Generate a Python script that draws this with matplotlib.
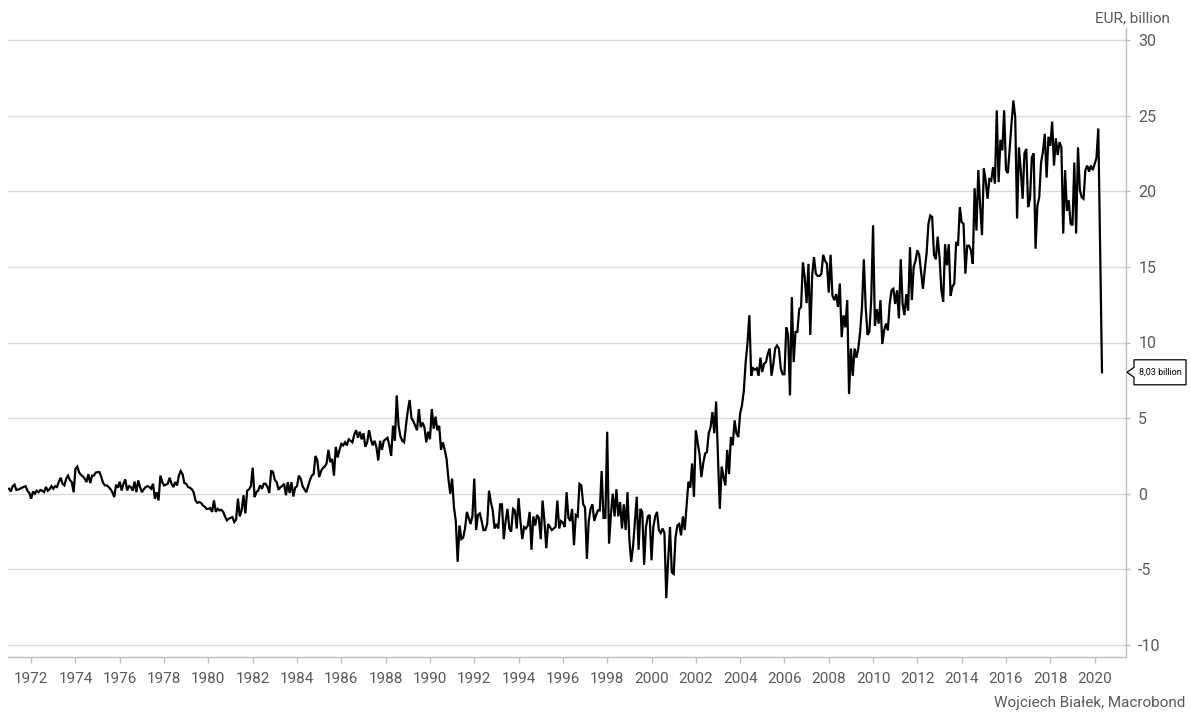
import matplotlib
matplotlib.use("Agg")
import matplotlib.pyplot as plt
from matplotlib.patches import Polygon
from matplotlib.transforms import IdentityTransform
import numpy as np

# ---- data: monthly values, EUR billion, starting January 1971 ----
vals_1970s = [
    0.33, 0.15, 0.5, 0.6, 0.25, 0.28, 0.33, 0.4, 0.45, 0.5, 0.2, 0.05,      # 1971
    -0.33, 0.15, 0.0, 0.2, 0.1, 0.25, 0.2, 0.1, 0.45, 0.2, 0.3, 0.5,        # 1972
    0.33, 0.5, 0.44, 0.8, 1.06, 0.66, 0.55, 1.0, 1.2, 0.9, 0.77, 0.1,       # 1973
    1.65, 1.8, 1.4, 1.25, 1.15, 1.0, 0.77, 1.3, 0.7, 1.2, 1.2, 1.4,         # 1974
    1.43, 1.43, 1.1, 0.7, 0.55, 0.55, 0.44, 0.3, 0.1, -0.22, 0.6, 0.4,      # 1975
    0.8, 0.22, 0.66, 0.95, 0.22, 0.5, 0.44, 0.2, 0.8, 0.1, 0.88, 0.44,      # 1976
    0.1, 0.3, 0.44, 0.5, 0.45, 0.33, 0.66, -0.33, 0.1, -0.44, 1.2, 0.77,    # 1977
    0.55, 0.6, 0.66, 1.06, 0.66, 0.44, 0.77, 0.55, 1.2, 1.5, 1.3, 0.7,      # 1978
    0.66, 0.44, 0.4, 0.3, 0.1, -0.44, -0.6, -0.55, -0.6, -0.77, -0.85, -1.0,  # 1979
]
vals_1980s = [
    -1.0, -0.95, -1.2, -0.44, -1.2, -1.0, -1.1, -1.06, -1.2, -1.5, -1.76, -1.65,  # 1980
    -1.6, -1.54, -1.87, -1.7, -0.33, -1.5, -1.1, -0.1, -1.3, 0.2, 0.3, 0.5,       # 1981
    1.72, -0.22, 0.1, 0.22, 0.55, 0.33, 0.66, 0.66, 0.44, 0.05, 1.54, 1.43,       # 1982
    0.9, 0.77, 0.26, 0.44, 0.5, 0.66, -0.1, 0.77, 0.05, 0.77, -0.18, 0.4,         # 1983
    0.5, 1.2, 1.0, 0.5, 0.3, 0.1, 0.5, 0.9, 1.2, 1.3, 2.5, 2.2,                   # 1984
    1.1, 1.5, 1.7, 1.8, 2.0, 2.9, 2.1, 2.3, 1.2, 3.1, 2.4, 2.9,                   # 1985
    3.3, 3.2, 3.4, 3.2, 3.6, 3.5, 3.4, 3.9, 4.2, 3.7, 4.1, 3.6,                   # 1986
    4.0, 3.1, 3.4, 4.2, 3.6, 3.2, 3.5, 3.1, 2.2, 3.5, 2.9, 3.5,                   # 1987
    3.6, 3.7, 3.2, 2.5, 4.5, 3.5, 6.5, 4.5, 3.8, 3.5, 3.4, 4.5,                   # 1988
    5.5, 6.2, 5.0, 4.8, 4.5, 4.2, 5.6, 4.4, 4.7, 4.4, 3.4, 4.1,                   # 1989
]
vals_1990s = [
    3.6, 5.6, 4.3, 5.1, 4.2, 4.5, 2.9, 3.4, 2.9, 2.3, 1.0, 0.0,                   # 1990
    1.0, -0.9, -1.8, -4.5, -2.1, -3.0, -2.9, -2.3, -1.2, -1.6, -2.0, -1.5,        # 1991
    1.0, -2.4, -1.4, -1.3, -1.8, -2.4, -2.4, -2.0, 0.2, -0.55, -1.1, -2.3,        # 1992
    -2.0, -2.3, -0.7, -0.7, -3.0, -1.8, -1.0, -2.3, -2.5, -1.0, -1.1, -2.3,       # 1993
    -0.3, -1.8, -3.0, -2.2, -2.3, -2.1, -1.2, -3.7, -1.5, -2.1, -1.4, -1.6,       # 1994
    -3.0, -0.45, -1.8, -3.6, -2.0, -2.2, -2.4, -2.3, -2.2, -0.45, -2.3, -1.8,     # 1995
    -1.9, -2.2, 0.1, -1.6, -1.8, -1.0, -3.4, -1.4, -1.5, 0.65, 0.55, -0.7,        # 1996
    -0.9, -4.3, -1.8, -1.0, -0.7, -1.8, -1.4, -1.1, -1.1, 1.5, -1.6, -1.6,        # 1997
    4.1, -3.3, -1.4, 0.0, -1.5, 0.3, -1.5, -0.55, -2.3, -0.7, -2.4, 0.1,          # 1998
    -3.0, -4.5, -3.5, -1.8, -0.2, -3.7, -1.0, -1.2, -4.7, -2.2, -1.5, -1.4,       # 1999
]
vals_2000s = [
    -4.4, -2.2, -1.5, -1.2, -2.4, -2.6, -2.3, -2.6, -6.9, -4.4, -2.2, -5.2,       # 2000
    -5.3, -2.9, -2.1, -2.0, -2.75, -1.5, -2.4, -0.8, 0.8, 0.4, 2.0, -0.2,         # 2001
    4.2, 3.4, 2.6, 1.1, 2.0, 2.65, 2.75, 4.0, 4.4, 5.4, 4.0, 6.1,                 # 2002
    2.4, -1.0, 1.8, 1.1, 0.55, 2.9, 1.3, 3.75, 3.2, 4.85, 4.0, 3.75,              # 2003
    5.3, 5.85, 6.8, 8.7, 10.0, 11.8, 7.8, 8.3, 8.2, 8.3, 7.8, 9.0,                # 2004
    8.05, 8.6, 8.7, 9.25, 9.6, 7.8, 8.6, 9.6, 9.8, 9.6, 8.3, 7.9,                 # 2005
    7.9, 11.0, 10.5, 6.5, 13.0, 8.7, 10.7, 10.7, 12.2, 12.35, 15.3, 14.3,         # 2006
    12.6, 15.2, 10.5, 14.4, 15.65, 14.55, 14.4, 14.4, 14.55, 15.8, 15.4, 15.2,    # 2007
    13.3, 15.8, 13.1, 12.8, 13.2, 12.35, 13.9, 10.35, 11.8, 11.0, 12.8, 6.6,      # 2008
    9.6, 7.8, 9.6, 9.0, 9.6, 10.7, 12.35, 15.5, 12.35, 10.5, 10.7, 12.8,          # 2009
]
vals_2010s = [
    17.75, 11.1, 12.2, 11.25, 12.8, 9.9, 10.8, 11.25, 10.8, 12.55, 13.45, 13.55,  # 2010
    12.55, 13.45, 11.6, 15.5, 12.55, 11.8, 13.2, 12.1, 16.3, 12.8, 15.0, 15.4,    # 2011
    16.1, 15.8, 14.65, 13.55, 14.8, 15.9, 17.85, 18.4, 18.3, 15.8, 15.5, 17.0,    # 2012
    15.65, 13.45, 12.7, 16.5, 15.1, 16.5, 13.1, 13.7, 13.9, 16.65, 16.4, 18.95,   # 2013
    17.95, 17.85, 14.55, 16.4, 16.4, 16.1, 15.2, 20.2, 17.4, 21.4, 19.05, 17.1,   # 2014
    21.5, 20.7, 19.5, 20.8, 20.7, 21.6, 20.5, 25.35, 20.6, 23.4, 22.7, 25.35,     # 2015
    21.4, 21.2, 22.8, 24.5, 26.0, 24.9, 18.2, 22.9, 21.4, 19.5, 22.5, 22.8,       # 2016
    18.95, 19.5, 22.25, 22.5, 16.2, 19.05, 19.6, 21.9, 22.6, 23.8, 20.9, 23.6,    # 2017
    23.0, 24.6, 21.7, 23.5, 22.4, 23.25, 22.9, 17.2, 21.4, 18.7, 19.4, 17.85,     # 2018
    17.75, 21.9, 17.2, 22.9, 20.1, 19.6, 19.5, 21.4, 21.7, 21.3, 21.7, 21.4,      # 2019
]
vals_2020 = [21.8, 22.2, 24.15, 16.0, 8.03]

start_year = 1971
tick_years = list(range(1972, 2021, 2))
y_ticks = [-10, -5, 0, 5, 10, 15, 20, 25, 30]
unit_label = "EUR, billion"
source_label = "Wojciech Białek, Macrobond"

values = np.array(vals_1970s + vals_1980s + vals_1990s + vals_2000s + vals_2010s + vals_2020)
t = start_year + np.arange(len(values)) / 12.0

# ---- figure ----
W, H = 1191, 713
plt.rcParams['font.family'] = ['Roboto', 'DejaVu Sans']
fig = plt.figure(figsize=(W / 100, H / 100), dpi=100)
ax_left, ax_right, ax_top, ax_bottom = 8, 1125.7, 28, 657
ax = fig.add_axes([ax_left / W, 1 - ax_bottom / H, (ax_right - ax_left) / W, (ax_bottom - ax_top) / H])

ax.plot(t, values, color='black', lw=1.6, solid_joinstyle='miter', zorder=3)

px_per_year = (1102 - 9) / (t[-1] - t[0])
ax.set_xlim(t[0] - (9 - ax_left) / px_per_year, t[0] + (ax_right - 9) / px_per_year)
ax.set_ylim(-10 - 12 / 15.125, 30 + 12 / 15.125)

ax.set_xticks(tick_years)
ax.set_xticklabels([str(y) for y in tick_years])
ax.set_yticks(y_ticks)
ax.set_yticklabels([str(v) for v in y_ticks])
ax.yaxis.tick_right()

grey = '#595959'
axis_grey = '#bfbfbf'
ax.grid(axis='y', color='#d9d9d9', lw=1.0, zorder=0)
ax.grid(axis='x', visible=False)
for s in ['left', 'top']:
    ax.spines[s].set_visible(False)
for s in ['right', 'bottom']:
    ax.spines[s].set_color(axis_grey)
    ax.spines[s].set_linewidth(1.0)

ax.tick_params(axis='x', length=4, width=1, color=axis_grey, labelcolor=grey,
               labelsize=11, pad=7)
ax.tick_params(axis='y', length=3, width=1, color=axis_grey, labelcolor=grey,
               labelsize=11.5, pad=6, right=True, left=False)

fig.text(1170 / W, 1 - 18 / H, unit_label, ha='right', va='center', color=grey, fontsize=11)
fig.text(1185 / W, 1 - 703 / H, source_label, ha='right', va='center', color=grey, fontsize=11)

# ---- callout for the last value ----
tip_y = ax.transData.transform((t[-1], values[-1]))[1]
tip_x = 1127
bx0, bx1 = 1134, 1186
bh = 12.5
poly = Polygon([(bx0, tip_y + bh), (bx1, tip_y + bh), (bx1, tip_y - bh), (bx0, tip_y - bh),
                (bx0, tip_y - 5), (tip_x, tip_y), (bx0, tip_y + 5)],
               closed=True, facecolor='white', edgecolor='black', lw=0.9,
               transform=IdentityTransform(), clip_on=False)
fig.add_artist(poly)
last_label = f"{values[-1]:.2f}".replace('.', ',') + " billion"
fig.text((bx0 + bx1) / 2 / W, tip_y / H, last_label, ha='center', va='center',
         fontsize=6.5, color='black')

fig.savefig('out.png', dpi=100)
